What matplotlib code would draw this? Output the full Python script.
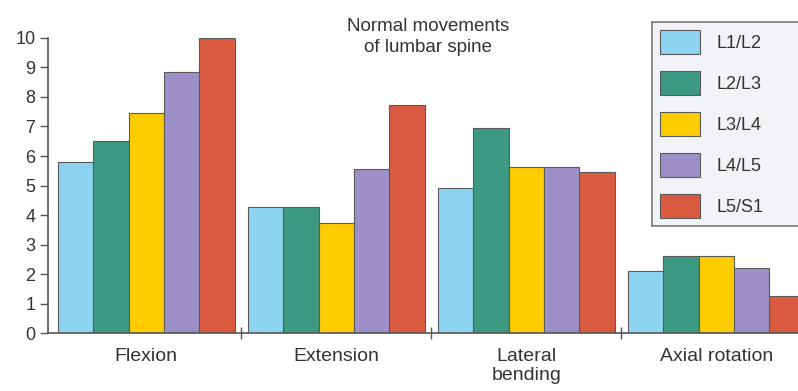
import matplotlib.pyplot as plt
import numpy as np

# data
movements = ["Flexion", "Extension", "Lateral\nbending", "Axial rotation"]
levels = ["L1/L2", "L2/L3", "L3/L4", "L4/L5", "L5/S1"]
l1_l2 = [5.8, 4.27, 4.9, 2.1]
l2_l3 = [6.5, 4.27, 6.95, 2.6]
l3_l4 = [7.45, 3.73, 5.63, 2.6]
l4_l5 = [8.85, 5.56, 5.63, 2.2]
l5_s1 = [10.0, 7.73, 5.45, 1.25]

series = [l1_l2, l2_l3, l3_l4, l4_l5, l5_s1]
colors = ["#8dd4f2", "#3d9a82", "#ffcc00", "#9d90c9", "#d95a3e"]

plt.rcParams["font.family"] = ["Liberation Sans", "DejaVu Sans"]
text_col = "#333333"
line_col = "#555555"

fig = plt.figure(figsize=(7.98, 3.91), dpi=100)
ax = fig.add_axes([0.06, 0.148, 0.94, 0.755])

x = np.arange(len(movements))
w = 0.186
for i, (vals, col, lab) in enumerate(zip(series, colors, levels)):
    ax.bar(x + (i - 2) * w, vals, width=w, color=col, edgecolor="#5a5a5a",
           linewidth=0.8, label=lab)

ax.set_xlim(-0.518, 3.43)
ax.set_ylim(0, 10)
ax.set_yticks(range(0, 11))
ax.tick_params(axis="y", direction="out", length=6, width=1, colors=line_col,
               labelcolor=text_col, labelsize=13, pad=3)

# separator ticks between groups, labels at group centers
ax.set_xticks([0.5, 1.5, 2.5])
ax.set_xticklabels([])
ax.tick_params(axis="x", direction="inout", length=8, width=1, colors=line_col)
for xi, name in zip(x, movements):
    ax.text(xi, -0.5, name, ha="center", va="top", fontsize=14,
            color=text_col, linespacing=1.15)

for side in ["top", "right"]:
    ax.spines[side].set_visible(False)
for side in ["left", "bottom"]:
    ax.spines[side].set_color(line_col)
    ax.spines[side].set_linewidth(1.2)

fig.text(428 / 798, 1 - 37 / 391, "Normal movements\nof lumbar spine",
         ha="center", va="center", fontsize=13.5, color=text_col, linespacing=1.3)

# legend box runs off the right edge like in the reference
leg = fig.legend(loc="upper left",
                 bbox_to_anchor=(652 / 798, 1 - 22 / 391 - 0.01, 0.25, 0.01),
                 mode="expand",
                 fontsize=13, handlelength=2.2, handleheight=1.65,
                 labelspacing=0.95, borderpad=0.45, handletextpad=0.95,
                 borderaxespad=0, frameon=True, fancybox=False,
                 labelcolor=text_col)
leg.get_frame().set_facecolor("#eef1f6")
leg.get_frame().set_edgecolor(line_col)
leg.get_frame().set_linewidth(1.2)

fig.savefig("out.png", dpi=100)
